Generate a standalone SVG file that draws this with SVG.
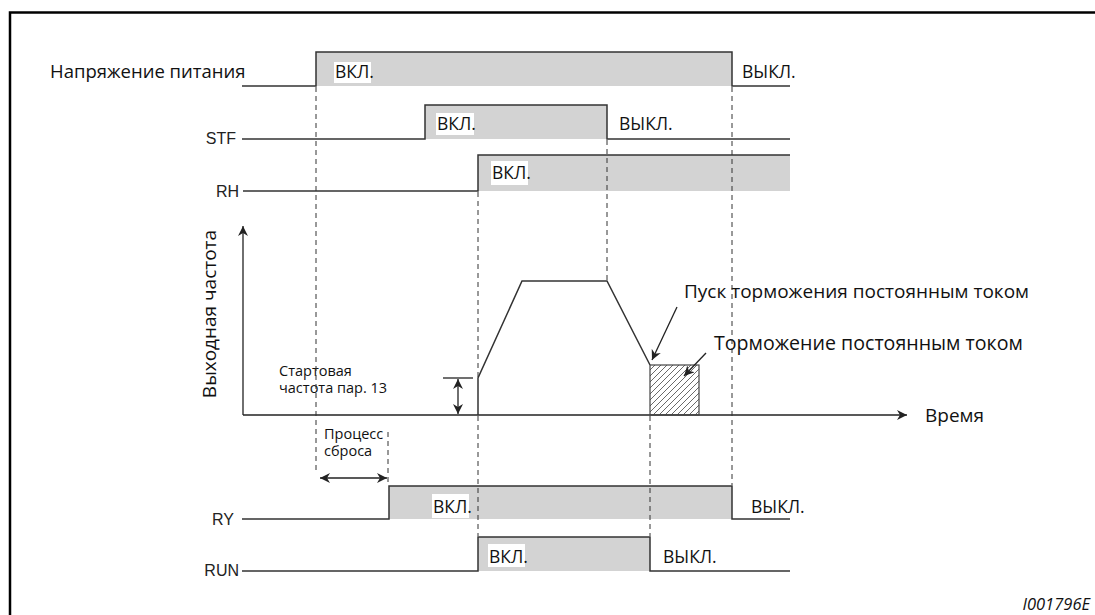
<svg xmlns="http://www.w3.org/2000/svg" width="1095" height="615" viewBox="0 0 1095 615">
<style>
.lbl{font-family:"Open Sans","DejaVu Sans",sans-serif;font-size:17.5px;fill:#111}
.big{font-family:"Open Sans","DejaVu Sans",sans-serif;font-size:19px;fill:#111}
.sig{font-family:"Liberation Sans",Arial,sans-serif;font-size:16px;fill:#222}
.small{font-family:"Open Sans","DejaVu Sans",sans-serif;font-size:14.5px;fill:#111}
.on{fill:#d3d3d3;stroke:none}
.wl{fill:none;stroke:#333;stroke-width:1.5}
.wb{fill:#fff;stroke:none}
.dash{fill:none;stroke:#333;stroke-width:1;stroke-dasharray:5 4}
.ln{fill:none;stroke:#222;stroke-width:1.3}
</style>
<defs>
<marker id="ah" viewBox="0 0 10 10" refX="10" refY="5" markerWidth="10" markerHeight="10" markerUnits="userSpaceOnUse" orient="auto-start-reverse">
<path d="M0,0 L10,5 L0,10 L3,5 Z" fill="#222"/>
</marker>
<pattern id="hatch" patternUnits="userSpaceOnUse" width="6" height="6">
<path d="M-1,1 L1,-1 M0,6 L6,0 M5,7 L7,5" stroke="#444" stroke-width="0.8"/>
</pattern>
</defs>
<rect width="1095" height="615" fill="#fff"/>
<path d="M10,615 V12.5 H1095" fill="none" stroke="#000" stroke-width="2.5"/>

<g id="power">
<text class="big" style="font-size:18.5px" x="50" y="78">Напряжение питания</text>
<rect class="on" x="316" y="52" width="416" height="34"/>
<path class="wl" d="M242,86 H316 V52 H732 V86 H790"/>
<rect class="wb" x="334" y="62" width="37" height="21"/>
<text class="lbl" x="335" y="78">ВКЛ.</text>
<text class="lbl" x="742" y="78">ВЫКЛ.</text>
</g>

<g id="stf">
<text class="sig" x="236" y="144" text-anchor="end">STF</text>
<rect class="on" x="425" y="105" width="182" height="34"/>
<path class="wl" d="M242,139 H425 V105 H607 V139 H790"/>
<rect class="wb" x="436" y="113" width="38" height="22"/>
<text class="lbl" x="437" y="130">ВКЛ.</text>
<text class="lbl" x="619" y="130">ВЫКЛ.</text>
</g>

<g id="rh">
<text class="sig" x="239" y="197" text-anchor="end">RH</text>
<rect class="on" x="478" y="155" width="312" height="36"/>
<path class="wl" d="M243,191 H478 V155 H790"/>
<rect class="wb" x="491" y="161" width="37" height="24"/>
<text class="lbl" x="492" y="179">ВКЛ.</text>
</g>

<g id="freq">
<text class="big" x="216" y="314" text-anchor="middle" transform="rotate(-90 216 314)">Выходная частота</text>
<path class="ln" d="M243,415 V226" marker-end="url(#ah)"/>
<path class="ln" d="M243,415 H907" marker-end="url(#ah)"/>
<text class="big" x="925" y="422">Время</text>
<path class="wl" d="M478,415 V378 L522,281 H607 L650,365"/>
<rect x="650" y="365" width="49" height="50" fill="url(#hatch)" stroke="#444" stroke-width="1.2"/>
<text class="small" x="279" y="376">Стартовая</text>
<text class="small" x="279" y="393">частота пар. 13</text>
<path class="ln" d="M443,378 H473"/>
<path class="ln" d="M458,379 V414" marker-start="url(#ah)" marker-end="url(#ah)"/>
<text class="big" x="684" y="298">Пуск торможения постоянным током</text>
<text class="big" style="font-size:19.6px" x="714" y="350">Торможение постоянным током</text>
</g>

<g id="reset">
<text class="small" x="324" y="439">Процесс</text>
<text class="small" x="324" y="456">сброса</text>
<path class="ln" d="M320,478 H387" marker-start="url(#ah)" marker-end="url(#ah)"/>
</g>

<g id="ry">
<text class="sig" x="234" y="525" text-anchor="end">RY</text>
<rect class="on" x="389" y="486" width="343" height="33"/>
<path class="wl" d="M242,519 H389 V486 H732 V519 H790"/>
<rect class="wb" x="432" y="494" width="37" height="24"/>
<text class="lbl" x="433" y="513">ВКЛ.</text>
<text class="lbl" x="751" y="513">ВЫКЛ.</text>
</g>

<g id="run">
<text class="sig" x="239" y="576" text-anchor="end">RUN</text>
<rect class="on" x="478" y="537" width="172" height="34"/>
<path class="wl" d="M242,571 H478 V537 H650 V571 H790"/>
<rect class="wb" x="488" y="544" width="37" height="23"/>
<text class="lbl" x="489" y="563">ВКЛ.</text>
<text class="lbl" x="663" y="563">ВЫКЛ.</text>
</g>

<g id="connectors">
<path class="dash" d="M316,87 V470"/>
<path class="dash" d="M478,192 V377"/>
<path class="dash" d="M478,416 V536"/>
<path class="dash" d="M607,140 V280"/>
<path class="dash" d="M650,416 V536"/>
<path class="dash" d="M732,87 V485"/>
<path class="dash" d="M388,432 V484"/>
<path class="ln" d="M677,307 L652,360" marker-end="url(#ah)"/>
<path class="ln" d="M706,353 L684,376" marker-end="url(#ah)"/>
</g>

<text class="small" style="font-style:italic;font-size:16.5px" x="1090" y="610" text-anchor="end">I001796E</text>
</svg>
